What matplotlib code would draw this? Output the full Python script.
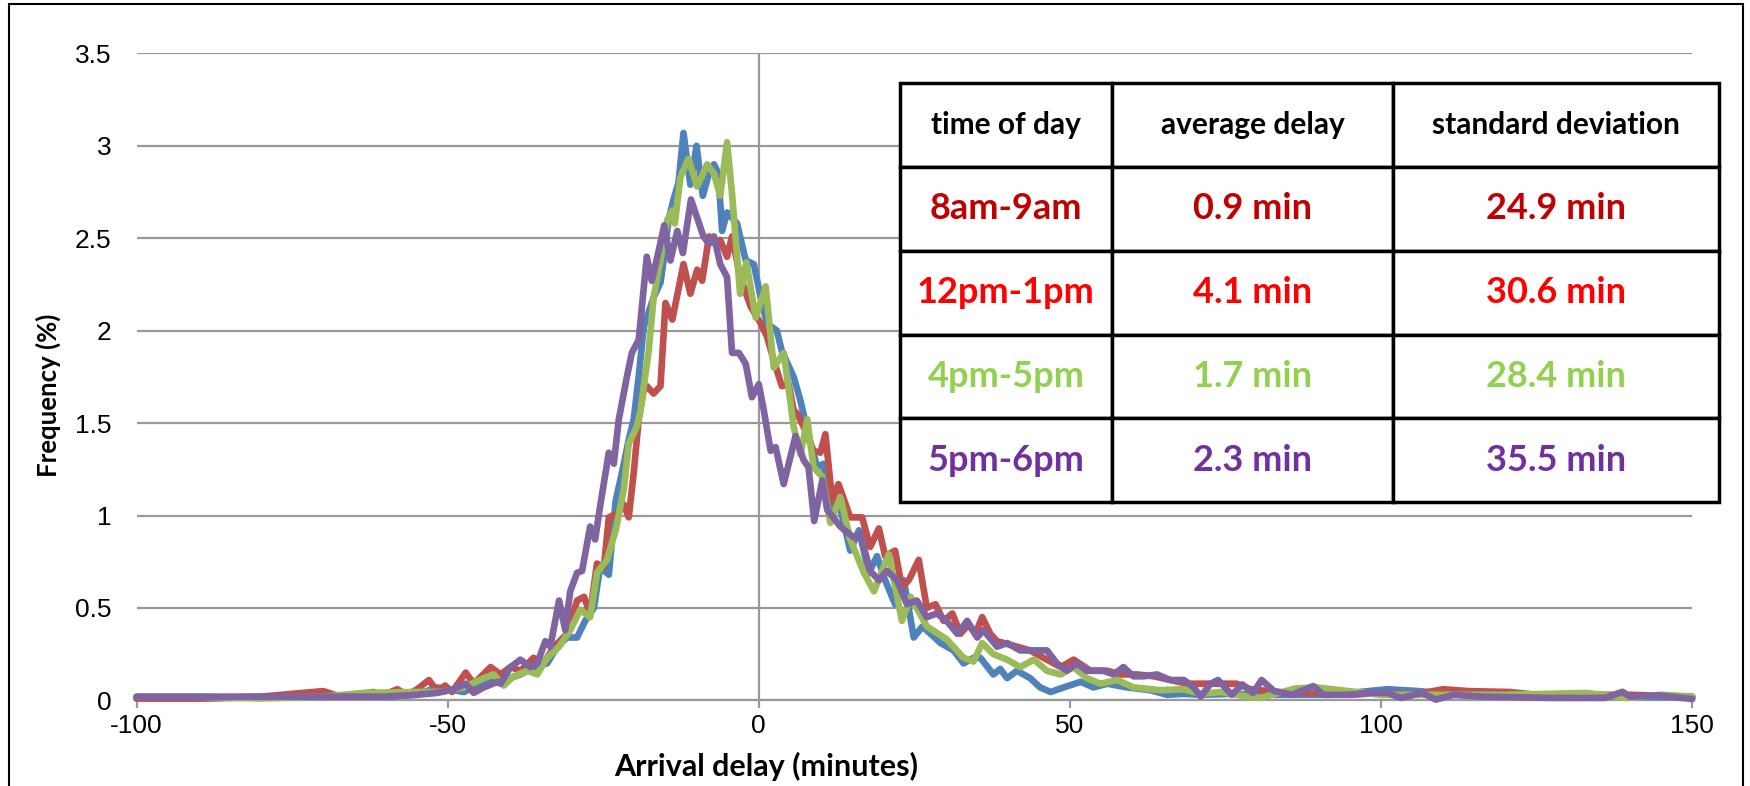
import matplotlib.pyplot as plt
from matplotlib.patches import Rectangle

plt.rcParams["font.family"] = "Liberation Sans"
plt.rcParams["axes.unicode_minus"] = False

# delay distributions (minutes, % of flights)
am8_x = [-100, -90, -80, -70, -60, -55, -51.7, -47.4, -44, -42, -40, -38.3, -36.2, -34, -32.4, -30.8, -29.2, -27.9,
         -26.5, -25.5, -24.1, -23, -22, -20.9, -20.1, -19.3, -18.5, -18, -16.9, -15.8, -15.3, -14.5, -13.7, -12.9,
         -12.1, -11, -10, -9, -8, -7.2, -6.5, -5.9, -5.1, -3.5, -2.1, -0.8, 0.3, 1.3, 2.9, 3.7, 5.6, 6.7, 8, 9.4,
         10.4, 11.5, 12.8, 14.7, 16.1, 17.7, 19, 20.3, 21.9, 23.3, 24.9, 26.3, 27.6, 29.2, 31.3, 32.9, 34.5, 35.6,
         37.7, 38.8, 39.9, 41.5, 43.6, 45.2, 46.9, 49, 51.7, 53.8, 56, 59.2, 62.9, 65.6, 68.3, 71, 76, 80, 86, 92,
         101, 106, 112, 120, 130, 140, 150]
am8_y = [0.01, 0.01, 0.015, 0.02, 0.02, 0.03, 0.07, 0.045, 0.1, 0.14, 0.12, 0.14, 0.18, 0.2, 0.29, 0.34, 0.34, 0.43,
         0.5, 0.72, 0.68, 1.08, 1.23, 1.41, 1.52, 1.75, 2.02, 2.07, 2.18, 2.26, 2.38, 2.6, 2.71, 2.8,
         3.07, 2.79, 3.0, 2.73, 2.85, 2.9, 2.85, 2.54, 2.64, 2.58, 2.38, 2.36, 2.18, 2.04, 2.0, 1.89, 1.75, 1.62,
         1.43, 1.26, 1.28, 1.03, 1.08, 0.81, 0.92, 0.69, 0.78, 0.65, 0.52, 0.65, 0.34, 0.40, 0.36, 0.31, 0.27, 0.2,
         0.23, 0.23, 0.14, 0.17, 0.12, 0.16, 0.12, 0.07, 0.045, 0.07, 0.1, 0.07, 0.09, 0.07, 0.055, 0.03, 0.035,
         0.03, 0.035, 0.03, 0.03, 0.03, 0.06, 0.05, 0.03, 0.025, 0.02, 0.02, 0.015]

pm12_x = [-100, -90, -80, -70, -67.2, -61.9, -60.3, -58.1, -56.5, -54.9, -53, -51.7, -50.4, -49.3, -47.1, -45.8,
          -43.1, -41.5, -39.9, -38.3, -36.2, -34.6, -32.9, -30.8, -29.2, -28.1, -27.1, -26, -24.9, -24.1, -22.8,
          -21.7, -20.9, -20.1, -19.3, -18.5, -18, -16.9, -15.8, -15, -13.9, -12.1, -11, -9.9, -9.1, -8, -7, -6.2,
          -5.1, -4.3, -3, -1.3, 0.3, 1.3, 2.4, 3.7, 4.8, 5.6, 6.2, 7.2, 8.8, 9.9, 10.7, 11.8, 12.8, 14.7, 16.6,
          17.9, 19.3, 20.3, 21.9, 23, 24.1, 25.7, 27, 28.4, 29.7, 31.1, 32.4, 33.7, 34.8, 35.9, 37.2, 38.3, 41.5,
          43.6, 46.3, 48.5, 50.6, 53.3, 56, 58.1, 60.8, 63.5, 66.1, 68.8, 72, 74.7, 76.8, 79, 85, 90, 95, 100,
          105, 110, 114, 120.7, 125, 130, 140, 150]
pm12_y = [0.01, 0.01, 0.02, 0.05, 0.02, 0.045, 0.03, 0.06, 0.03, 0.06, 0.11, 0.05, 0.08, 0.045, 0.15, 0.09,
          0.18, 0.14, 0.18, 0.16, 0.23, 0.2, 0.29, 0.36, 0.54, 0.56, 0.47, 0.74, 0.72, 0.99, 1.01,
          1.06, 0.99, 1.23, 1.52, 1.68, 1.70, 1.66, 1.70, 2.15, 2.06, 2.36, 2.2, 2.33, 2.27, 2.51, 2.47, 2.49,
          2.4, 2.51, 2.29, 2.13, 2.04, 1.97, 1.84, 1.70, 1.71, 1.57, 1.55, 1.48, 1.35, 1.34, 1.44, 1.08, 1.17, 0.99,
          0.99, 0.83, 0.93, 0.78, 0.81, 0.61, 0.65, 0.76, 0.50, 0.52, 0.43, 0.47, 0.36, 0.41, 0.36, 0.45, 0.36,
          0.32, 0.29, 0.27, 0.22, 0.18, 0.22, 0.16, 0.16, 0.14, 0.14, 0.13, 0.11, 0.09, 0.09, 0.09, 0.09, 0.06,
          0.04, 0.04, 0.03, 0.04, 0.03, 0.06, 0.05, 0.045, 0.03, 0.03, 0.03, 0.02]

pm4_x = [-100, -90, -80, -70, -63.5, -55.4, -51.2, -47.4, -44.2, -42.6, -41, -39.4, -37.2, -35.6, -34, -32.1,
         -30.3, -28.7, -27.1, -26, -24.4, -23, -21.7, -20.9, -19.6, -19, -17.7, -16.9, -15.8, -14.7, -13.9, -13.5,
         -12.6, -11.3, -9.9, -8.3, -7.2, -6.2, -5.1, -4.3, -3, -2, -0.5, 1.1, 2.4, 4, 5.1, 5.6, 6.7, 7.8, 8.8,
         10.2, 11.5, 13.1, 14.7, 16.9, 18.5, 20.9, 23, 24.4, 27, 30.2, 32.9, 34.5, 35.9, 37.7, 39.9, 42, 44.2,
         46.3, 48.5, 50.6, 52.7, 54.9, 57.6, 60.2, 64.5, 68.3, 71, 74.2, 78.5, 80.6, 86.2, 89.6, 94.7, 100, 110,
         120, 133, 139.4, 145, 150]
pm4_y = [0.02, 0.02, 0.01, 0.02, 0.04, 0.045, 0.045, 0.07, 0.12, 0.14, 0.08, 0.13, 0.16, 0.14, 0.23, 0.29,
         0.38, 0.49, 0.45, 0.69, 0.76, 0.92, 1.14, 1.39, 1.48, 1.57, 1.89, 2.18, 2.38, 2.6, 2.65, 2.58,
         2.83, 2.93, 2.78, 2.9, 2.85, 2.73, 3.02, 2.74, 2.2, 2.37, 2.07, 2.24, 1.80, 1.88, 1.61, 1.48, 1.33, 1.52,
         1.26, 1.21, 0.96, 1.10, 0.87, 0.69, 0.59, 0.79, 0.43, 0.56, 0.40, 0.33, 0.23, 0.21, 0.31, 0.25, 0.22,
         0.18, 0.22, 0.16, 0.14, 0.18, 0.12, 0.09, 0.11, 0.07, 0.055, 0.06, 0.035, 0.045, 0.02, 0.013, 0.064,
         0.07, 0.05, 0.03, 0.03, 0.03, 0.04, 0.013, 0.03, 0.02]

pm5_x = [-100, -90, -80, -70, -60, -55, -51.7, -49, -47.1, -45.8, -44.2, -42, -41.5, -39.9, -38.3, -36.7, -35.6,
         -34.3, -33.5, -32.1, -31.1, -30.3, -29.2, -28.4, -27.1, -26.3, -25.5, -24.1, -23.3, -22.5, -21.2, -20.4,
         -19.3, -18, -17.2, -16.3, -15.2, -14.2, -13.1, -12.2, -10.9, -8.9, -8, -7.2, -6.2, -5.1, -4.3, -3.2,
         -2.1, -1.1, 0, 0.8, 1.9, 2.7, 4, 5.9, 7.2, 8, 8.9, 10.2, 11, 13.1, 15.3, 16.3, 17.9, 19.3, 20.6, 22.2,
         23.8, 25.4, 27, 28.6, 30.2, 31.9, 33.5, 35.1, 36.1, 38.3, 39.9, 42, 44.2, 46.3, 47.9, 49.5, 51.1, 52.7,
         55.4, 57, 58.6, 60.2, 61.9, 64, 66.1, 68.3, 69.9, 71, 72.6, 73.8, 76, 77.7, 79.4, 80.8, 82.8, 85.7,
         89.1, 90.7, 94.7, 98.1, 101, 103.2, 106.6, 108.8, 111.7, 116.2, 127.5, 136, 138.8, 140, 144.5, 150]
pm5_y = [0.02, 0.02, 0.02, 0.02, 0.02, 0.03, 0.04, 0.06, 0.09, 0.04, 0.07, 0.10, 0.09, 0.18, 0.22, 0.18, 0.20,
         0.32, 0.29, 0.54, 0.38, 0.59, 0.69, 0.70, 0.94, 0.87, 1.05, 1.34, 1.28, 1.52, 1.75, 1.88,
         1.95, 2.40, 2.27, 2.40, 2.57, 2.38, 2.54, 2.42, 2.71, 2.51, 2.47, 2.51, 2.36, 2.29, 1.88, 1.88,
         1.82, 1.64, 1.71, 1.57, 1.35, 1.37, 1.17, 1.43, 1.30, 1.26, 0.97, 1.19, 1.03, 0.94, 0.88, 0.90, 0.70,
         0.65, 0.70, 0.65, 0.52, 0.54, 0.45, 0.47, 0.43, 0.36, 0.43, 0.34, 0.38, 0.29, 0.31, 0.27, 0.27, 0.27,
         0.20, 0.16, 0.20, 0.16, 0.16, 0.14, 0.18, 0.13, 0.13, 0.14, 0.11, 0.11, 0.07, 0.02, 0.09, 0.11, 0.03,
         0.086, 0.04, 0.11, 0.05, 0.03, 0.077, 0.03, 0.03, 0.04, 0.04, 0.013, 0.04, 0.004, 0.03, 0.02, 0.013,
         0.013, 0.046, 0.02, 0.027, 0.007]

line_colors = ["#4F81BD", "#C0504D", "#9BBB59", "#8064A2"]

table_header = ["time of day", "average delay", "standard deviation"]
table_rows = [["8am-9am", "0.9 min", "24.9 min"],
              ["12pm-1pm", "4.1 min", "30.6 min"],
              ["4pm-5pm", "1.7 min", "28.4 min"],
              ["5pm-6pm", "2.3 min", "35.5 min"]]
row_colors = ["#C00000", "#FF0000", "#92D050", "#7030A0"]

x_ticks = [-100, -50, 0, 50, 100, 150]
y_ticks = [0, 0.5, 1, 1.5, 2, 2.5, 3, 3.5]
y_tick_labels = ["0", "0.5", "1", "1.5", "2", "2.5", "3", "3.5"]

fig = plt.figure(figsize=(17.5, 7.86), dpi=100)
ax = fig.add_axes([0.078, 0.109, 0.889, 0.823])

series = [(am8_x, am8_y), (pm12_x, pm12_y), (pm4_x, pm4_y), (pm5_x, pm5_y)]
for (xs, ys), c in zip(series, line_colors):
    ax.plot(xs, ys, color=c, lw=4.8, solid_joinstyle='round', solid_capstyle='round', clip_on=False, zorder=3)

ax.set_xlim(-100, 150)
ax.set_ylim(0, 3.5)
ax.set_xticks(x_ticks)
ax.set_yticks(y_ticks)
ax.set_yticklabels(y_tick_labels)
ax.yaxis.grid(True, color="#999999", lw=1.6)
ax.set_axisbelow(True)
ax.axvline(0, color="#999999", lw=1.6, zorder=1)
for s in ["left", "right", "top"]:
    ax.spines[s].set_visible(False)
ax.spines["bottom"].set_color("#999999")
ax.spines["bottom"].set_linewidth(1.6)
ax.yaxis.set_tick_params(length=0, labelsize=19)
ax.yaxis.set_tick_params(pad=18)
ax.xaxis.set_tick_params(length=6, width=1.6, color="#999999", pad=4, labelsize=19)

fig.text(0.438, 0.025, "Arrival delay (minutes)", ha="center", va="center", fontsize=22,
         fontweight="bold", family="Lato")
fig.text(0.0275, 0.497, "Frequency (%)", ha="center", va="center", rotation=90, fontsize=18.5,
         fontweight="bold", family="Lato")

# stats table
tax = fig.add_axes([0.514, 0.361, 0.468, 0.533])
tax.axis("off")
tbl = tax.table(cellText=table_rows, colLabels=table_header, colWidths=[0.26, 0.343, 0.397],
                cellLoc="center", bbox=[0, 0, 1, 1])
tbl.auto_set_font_size(False)
for (r, c), cell in tbl.get_celld().items():
    cell.set_edgecolor("black")
    cell.set_linewidth(2.5)
    txt = cell.get_text()
    txt.set_fontfamily("Lato")
    txt.set_fontweight("bold")
    if r == 0:
        txt.set_fontsize(21.5)
        txt.set_color("black")
    else:
        txt.set_fontsize(26)
        txt.set_color(row_colors[r - 1])

fig.patches.append(Rectangle((0.005, -0.01), 0.991, 1.005, transform=fig.transFigure,
                             fill=False, edgecolor="black", lw=1.5))

fig.savefig("out.png", dpi=100)
